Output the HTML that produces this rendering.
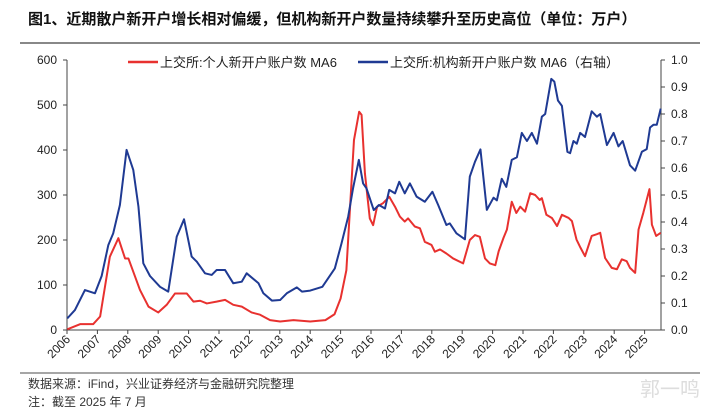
<!DOCTYPE html>
<html><head><meta charset="utf-8"><style>
body{margin:0;background:#fff;width:719px;height:412px;overflow:hidden;font-family:"Liberation Sans","Noto Sans CJK SC",sans-serif}
</style></head><body>
<svg id="c" width="719" height="412" style="position:absolute;left:0;top:0">
<text x="28" y="24" font-size="15" font-weight="bold" fill="#111">图1、近期散户新开户增长相对偏缓，但机构新开户数量持续攀升至历史高位（单位：万户）</text>
<line x1="20" y1="43" x2="700" y2="43" stroke="#888" stroke-width="2"/>
<g>
<line x1="128" y1="62" x2="158" y2="62" stroke="#e8312f" stroke-width="2.5"/>
<text x="160" y="67" font-size="13" fill="#222">上交所:个人新开户账户数 MA6</text>
<line x1="358" y1="62" x2="388" y2="62" stroke="#1f3a93" stroke-width="2.5"/>
<text x="390" y="67" font-size="13" fill="#222">上交所:机构新开户账户数 MA6（右轴）</text>
</g>
<g id="axes"></g>
<g id="series"></g>
<line x1="20" y1="373" x2="700" y2="373" stroke="#888" stroke-width="1.5"/>
<text x="28" y="388" font-size="12" fill="#333">数据来源：iFind，兴业证券经济与金融研究院整理</text>
<text x="28" y="406" font-size="12" fill="#333">注：截至 2025 年 7 月</text>
<text x="640" y="396" font-size="20" fill="#ddd">郭一鸣</text>
</svg>
<script>
const years=[2006,2007,2008,2009,2010,2011,2012,2013,2014,2015,2016,2017,2018,2019,2020,2021,2022,2023,2024,2025];
const leftTicks=[0,100,200,300,400,500,600];
const rightTicks=[0.0,0.1,0.2,0.3,0.4,0.5,0.6,0.7,0.8,0.9,1.0];
const retailT=[2006.01,2006.43,2006.86,2007.09,2007.41,2007.69,2007.91,2008.02,2008.4,2008.68,2009.0,2009.28,2009.55,2009.94,2010.16,2010.38,2010.6,2010.92,2011.2,2011.47,2011.75,2012.07,2012.35,2012.68,2013.01,2013.45,2014.0,2014.5,2014.8,2015.0,2015.19,2015.44,2015.61,2015.69,2015.8,2015.96,2016.07,2016.2,2016.4,2016.6,2016.79,2016.95,2017.11,2017.22,2017.44,2017.61,2017.77,2017.99,2018.1,2018.27,2018.48,2018.7,2019.03,2019.25,2019.42,2019.58,2019.75,2019.91,2020.09,2020.2,2020.36,2020.47,2020.63,2020.78,2020.91,2021.07,2021.24,2021.4,2021.55,2021.62,2021.77,2021.95,2022.12,2022.28,2022.5,2022.61,2022.76,2022.89,2023.04,2023.26,2023.43,2023.54,2023.7,2023.92,2024.09,2024.25,2024.41,2024.52,2024.69,2024.8,2024.96,2025.16,2025.24,2025.38,2025.53];
const retailV=[1.5,13,13,30,163,204,159,159,89,52,39,56,81,81,63,65,59,63,67,56,52,39,34,22,19,22,19,22,35,70,133,422,485,478,348,248,233,274,282,296,274,252,241,248,230,226,196,189,174,179,170,159,148,200,211,207,159,148,144,175,205,223,285,260,274,263,304,300,289,293,256,249,231,256,249,242,201,183,164,209,213,216,160,138,135,157,153,138,127,223,261,313,234,209,216];
const instT=[2006.01,2006.26,2006.59,2006.92,2007.14,2007.36,2007.52,2007.74,2007.96,2008.18,2008.35,2008.51,2008.73,2009.06,2009.33,2009.61,2009.85,2010.1,2010.27,2010.54,2010.76,2010.92,2011.2,2011.47,2011.75,2011.91,2012.3,2012.46,2012.74,2013.01,2013.23,2013.56,2013.73,2014.0,2014.4,2014.81,2015.03,2015.25,2015.41,2015.6,2015.74,2015.85,2016.09,2016.26,2016.46,2016.6,2016.79,2016.93,2017.11,2017.28,2017.5,2017.77,2018.02,2018.21,2018.48,2018.59,2018.81,2019.09,2019.25,2019.42,2019.6,2019.81,2020.03,2020.14,2020.3,2020.45,2020.63,2020.8,2020.96,2021.13,2021.29,2021.46,2021.62,2021.73,2021.93,2022.03,2022.15,2022.28,2022.46,2022.55,2022.66,2022.77,2022.88,2023.04,2023.26,2023.43,2023.54,2023.76,2023.98,2024.14,2024.28,2024.52,2024.69,2024.91,2025.07,2025.18,2025.29,2025.4,2025.53];
const instV=[0.043,0.074,0.148,0.136,0.2,0.315,0.358,0.463,0.667,0.593,0.457,0.247,0.2,0.16,0.142,0.346,0.41,0.272,0.253,0.21,0.204,0.222,0.222,0.173,0.179,0.21,0.173,0.136,0.109,0.111,0.136,0.158,0.142,0.146,0.16,0.228,0.321,0.42,0.525,0.63,0.543,0.525,0.444,0.463,0.45,0.519,0.506,0.549,0.506,0.543,0.494,0.475,0.512,0.463,0.389,0.395,0.358,0.336,0.568,0.623,0.669,0.445,0.49,0.48,0.56,0.53,0.63,0.64,0.73,0.70,0.73,0.69,0.79,0.80,0.93,0.92,0.85,0.83,0.66,0.655,0.70,0.69,0.73,0.715,0.81,0.79,0.80,0.685,0.73,0.68,0.70,0.61,0.59,0.66,0.67,0.75,0.76,0.76,0.82];
const NS='http://www.w3.org/2000/svg';
const X0=67,X1=661,Y0=330,Y1=60;
const xs=t=>X0+(t-2006)*30.4;
const yl=v=>Y0-(v/600)*(Y0-Y1);
const yr=v=>Y0-(v/1.0)*(Y0-Y1);
function mk(tag,attrs,parent){const e=document.createElementNS(NS,tag);for(const k in attrs)e.setAttribute(k,attrs[k]);parent.appendChild(e);return e;}
const ax=document.getElementById('axes');
let e=mk('line',{x1:X0,y1:Y1,x2:X0,y2:Y0,stroke:'#444'},ax);


e=mk('line',{x1:X1,y1:Y1,x2:X1,y2:Y0,stroke:'#444'},ax);


e=mk('line',{x1:X0,y1:Y0,x2:X1,y2:Y0,stroke:'#444'},ax);


leftTicks.forEach(v=>{
  mk('line',{x1:X0-4,y1:yl(v),x2:X0,y2:yl(v),stroke:'#444'},ax);
  const t=mk('text',{x:X0-10,y:yl(v)+4,'font-size':12,'text-anchor':'end',fill:'#222'},ax);
  t.textContent=v;
  
  
});
rightTicks.forEach(v=>{
  mk('line',{x1:X1,y1:yr(v),x2:X1+4,y2:yr(v),stroke:'#444'},ax);
  const t=mk('text',{x:X1+10,y:yr(v)+4,'font-size':12,fill:'#222'},ax);
  t.textContent=v.toFixed(1);
  
  
});
years.forEach(y=>{
  const x=xs(y);
  mk('line',{x1:x,y1:Y0,x2:x,y2:Y0+4,stroke:'#444'},ax);
  const t=mk('text',{x:x+4,y:Y0+10,'font-size':12,'text-anchor':'end',fill:'#222',transform:`rotate(-45 ${x+4} ${Y0+10})`},ax);
  t.textContent=y;
  
  
});
const sg=document.getElementById('series');
let p=mk('polyline',{points:retailT.map((t,i)=>xs(t)+','+yl(retailV[i])).join(' '),fill:'none',stroke:'#e8312f','stroke-width':2,'stroke-linejoin':'round'},sg);


p=mk('polyline',{points:instT.map((t,i)=>xs(t)+','+yr(instV[i])).join(' '),fill:'none',stroke:'#1f3a93','stroke-width':2,'stroke-linejoin':'round'},sg);


</script>
</body></html>
